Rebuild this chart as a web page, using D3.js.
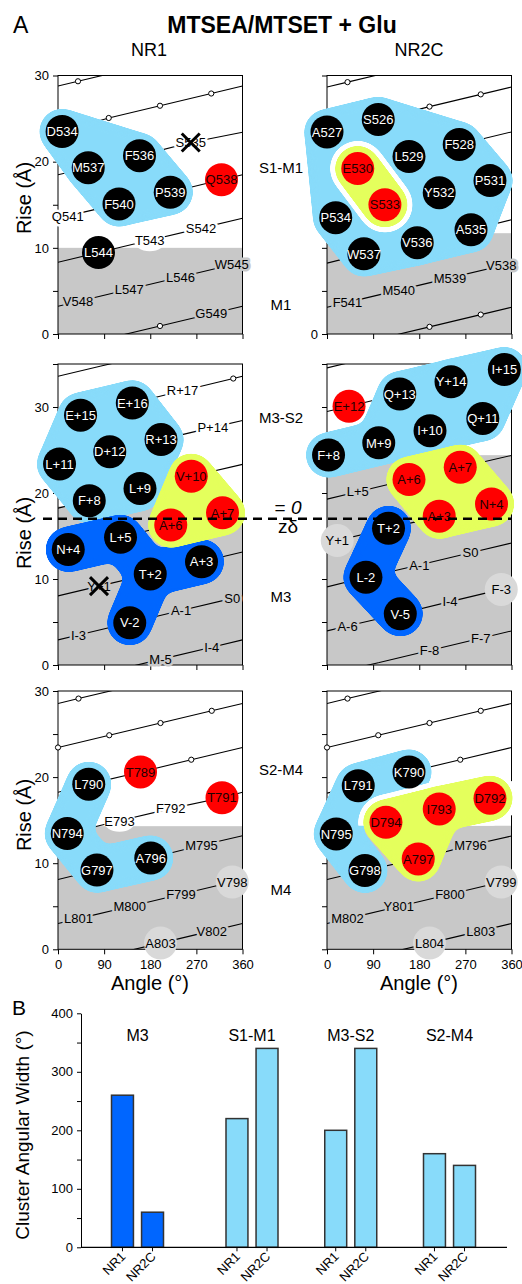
<!DOCTYPE html>
<html><head><meta charset="utf-8">
<script src="https://cdn.jsdelivr.net/npm/d3@7"></script>
<style>body{margin:0;background:#fff}svg{display:block}</style>
</head><body>
<svg id="c" width="522" height="1284" font-family="Liberation Sans, Arial, sans-serif"></svg>
<script>
// ---------------- DATA ----------------
// residues: [label, helical angle (deg), rise (Å), mark]  mark: b=black, r=red, o=open marker, t=text, x=crossed, w=white spot, g=grey spot, n=path only
const nr1S1M1 = [
 ["",239,32.17,"n"],["",139,30.75,"n"],["",39,29.33,"o"],["",299,27.91,"o"],["",199,26.49,"o"],["",99,25.07,"o"],
 ["D534",8,23.5,"b"],["S535",259,22.23,"x"],["F536",159,20.7,"b"],["M537",59,19.3,"b"],["Q538",319,17.9,"r"],
 ["P539",219,16.45,"b"],["F540",119,15.1,"b"],["Q541",19,13.71,"t"],["S542",279,12.29,"t"],["T543",179,10.87,"w"],
 ["L544",79,9.45,"b"],["W545",339,8.03,"t"],["L546",239,6.61,"t"],["L547",139,5.19,"t"],["V548",39,3.77,"t"],
 ["G549",299,2.35,"t"],["",199,0.93,"o"],["",99,-0.49,"n"]
];
const nr2cS1M1 = [
 ["",240,32.07,"n"],["",140,30.65,"n"],["",40,29.23,"o"],["",300,27.81,"o"],["",200,26.39,"o"],
 ["S526",100,24.9,"b"],["A527",0,23.45,"b"],["F528",258,22.0,"b"],["L529",160,20.6,"b"],["E530",60,19.2,"r"],
 ["P531",318,17.8,"b"],["Y532",219,16.4,"b"],["S533",113,15.0,"r"],["P534",17,13.5,"b"],["A535",281,12.1,"b"],
 ["V536",176,10.6,"b"],["W537",72,9.3,"b"],["V538",340,7.93,"t"],["M539",240,6.51,"t"],["M540",140,5.09,"t"],
 ["F541",40,3.67,"t"],["",300,2.25,"o"],["",200,0.83,"o"],["",100,-0.59,"n"]
];
const nr1M3 = [
 ["",100,-0.77,"n"],["M-5",200,0.65,"t"],["I-4",300,2.07,"t"],["I-3",40,3.49,"t"],["V-2",140,4.91,"b"],
 ["A-1",240,6.33,"t"],["S0",340,7.75,"t"],["Y+1",80,9.17,"x"],["T+2",180,10.59,"b"],["A+3",280,12.01,"b"],
 ["N+4",20,13.43,"b"],["L+5",122,14.85,"b"],["A+6",220,16.27,"r"],["A+7",321,17.69,"r"],["F+8",61,19.11,"b"],
 ["L+9",160,20.53,"b"],["V+10",260,21.95,"r"],["L+11",3,23.37,"b"],["D+12",101,24.79,"b"],["R+13",201,26.21,"b"],
 ["P+14",302,27.63,"t"],["E+15",44,29.05,"b"],["E+16",145,30.47,"b"],["R+17",243,31.89,"t"],["",342,33.31,"o"],
 ["",82,34.73,"n"],["",182,36.15,"n"]
];
const nr2cM3 = [
 ["",0,-1.15,"n"],["",100,0.27,"n"],["F-8",200,1.69,"t"],["F-7",300,3.11,"t"],["A-6",40,4.53,"t"],
 ["V-5",143,5.95,"b"],["I-4",240,7.37,"t"],["F-3",340,8.79,"g"],["L-2",76,10.21,"b"],["A-1",180,11.63,"t"],
 ["S0",280,13.05,"t"],["Y+1",20,14.47,"g"],["T+2",120,15.89,"b"],["A+3",219,17.31,"r"],["N+4",321,18.73,"r"],
 ["L+5",60,20.15,"t"],["A+6",160,21.57,"r"],["A+7",260,22.99,"r"],["F+8",3,24.41,"b"],["M+9",101,25.83,"b"],
 ["I+10",201,27.25,"b"],["Q+11",304,28.67,"b"],["E+12",43,30.09,"r"],["Q+13",142,31.51,"b"],["Y+14",242,32.93,"b"],
 ["I+15",346,34.35,"b"],["",86,35.77,"n"],["",186,37.19,"n"]
];
const nr1S2M4 = [
 ["",240,31.96,"n"],["",140,30.54,"n"],["",40,29.12,"o"],["",300,27.7,"o"],["",200,26.28,"o"],["",100,24.86,"o"],
 ["",0,23.44,"o"],["",260,22.02,"o"],["T789",161,20.6,"r"],["L790",60,19.18,"b"],["T791",320,17.6,"r"],
 ["F792",220,16.34,"t"],["E793",120,14.92,"w"],["N794",18,13.45,"b"],["M795",280,12.08,"t"],["A796",181,10.6,"b"],
 ["G797",76,9.2,"b"],["V798",340,7.82,"g"],["F799",240,6.4,"t"],["M800",140,4.98,"t"],["L801",40,3.56,"t"],
 ["V802",300,2.14,"t"],["A803",200,0.72,"g"],["",100,-0.7,"n"]
];
const nr2cS2M4 = [
 ["",240,31.96,"n"],["",140,30.54,"n"],["",40,29.12,"o"],["",300,27.7,"o"],["",200,26.28,"o"],["",100,24.86,"o"],
 ["",0,23.44,"o"],["",260,22.02,"o"],["K790",160,20.6,"b"],["L791",61,19.0,"b"],["D792",318,17.55,"r"],
 ["I793",219,16.3,"r"],["D794",115,14.75,"r"],["N795",18,13.4,"b"],["M796",280,12.08,"t"],["A797",178,10.5,"r"],
 ["G798",74,9.15,"b"],["V799",340,7.82,"g"],["F800",240,6.4,"t"],["Y801",140,4.98,"t"],["M802",40,3.56,"t"],
 ["L803",300,2.14,"t"],["L804",200,0.72,"g"],["",100,-0.7,"n"]
];
// clusters: [type, members, links]
const nr1S1M1Clusters = [
 ["cluster",["D534","M537","F536","F540","P539"],[["D534","M537"],["D534","F536"],["M537","F536"],["M537","F540"],["F536","P539"],["F540","P539"],["F536","F540"]]]
];
const nr2cS1M1Clusters = [
 ["cluster",["A527","S526","F528","L529","E530","P531","Y532","S533","P534","A535","V536","W537"],
  [["A527","S526"],["S526","L529"],["S526","F528"],["L529","F528"],["F528","P531"],["P531","A535"],["A535","V536"],["V536","W537"],
   ["W537","P534"],["P534","A527"],["A527","E530"],["E530","L529"],["E530","P534"],["E530","S533"],["S533","P534"],["S533","W537"],
   ["S533","V536"],["S533","Y532"],["L529","Y532"],["Y532","F528"],["Y532","P531"],["Y532","A535"],["Y532","V536"],["L529","S533"]]],
 ["moat",["E530","S533"],[["E530","S533"]]],
 ["reactive",["E530","S533"],[["E530","S533"]]]
];
const nr1M3Clusters = [
 ["cluster",["E+15","E+16","R+13","D+12","L+11","L+9","F+8"],
  [["L+11","E+15"],["E+15","E+16"],["E+16","R+13"],["R+13","L+9"],["L+9","F+8"],["F+8","L+11"],
   ["D+12","E+15"],["D+12","E+16"],["D+12","R+13"],["D+12","L+9"],["D+12","F+8"],["D+12","L+11"]]],
 ["gate",["N+4","L+5","T+2","A+3","V-2"],[["N+4","L+5"],["L+5","T+2"],["T+2","A+3"],["T+2","V-2"]]],
 ["reactive",["V+10","A+7","A+6"],[["V+10","A+7"],["A+7","A+6"],["A+6","V+10"]]]
];
const nr2cM3Clusters = [
 ["cluster",["F+8","M+9","I+10","Q+11","Q+13","Y+14","I+15"],
  [["F+8","M+9"],["M+9","I+10"],["I+10","Q+11"],["Q+13","Y+14"],["Y+14","I+15"],["M+9","Q+13"],["I+10","Q+13"],
   ["I+10","Y+14"],["Q+11","Y+14"],["Q+11","I+15"]]],
 ["reactive",["A+6","A+7","N+4","A+3"],[["A+6","A+7"],["A+7","N+4"],["N+4","A+3"],["A+3","A+6"],["A+6","N+4"],["A+7","A+3"]]],
 ["gate",["T+2","L-2","V-5"],[["T+2","L-2"],["L-2","V-5"]]]
];
const nr1S2M4Clusters = [
 ["cluster",["L790","N794","G797","A796"],[["L790","N794"],["N794","G797"],["G797","A796"]]]
];
const nr2cS2M4Clusters = [
 ["cluster",["K790","L791","N795","G798"],[["K790","L791"],["L791","N795"],["N795","G798"]]],
 ["moat",["D794","I793","D792","A797"],[["D794","I793"],["I793","D792"],["D794","A797"],["I793","A797"]]],
 ["reactive",["D794","I793","D792","A797"],[["D794","I793"],["I793","D792"],["D794","A797"],["I793","A797"]]]
];
const angleTicks = [0,90,180,270,360];
// panel B
const groups = ["M3","S1-M1","M3-S2","S2-M4"];
const subunits = ["NR1","NR2C"];
const widthNR1 = [260,220,200,160];
const widthNR2C = [60,340,340,140];
const widthTicks = [0,50,100,150,200,250,300,350,400];

// ---------------- STYLE ----------------
const FONT="Liberation Sans, Arial, sans-serif";
const GRAY="#c8c8c8", SPOT="#d9d9d9", RED="#ff0000";
const clusterColor={cluster:"#88dbfa",gate:"#0066ff",reactive:"#e4ff5c",moat:"#ffffff"};
const clusterPad={cluster:6,gate:6,reactive:6,moat:11};
const R=16.5;

const svg=d3.select("#c");
const defs=svg.append("defs");
const goo=defs.append("filter").attr("id","goo").attr("filterUnits","userSpaceOnUse")
  .attr("x",-50).attr("y",-50).attr("width",622).attr("height",1384).attr("color-interpolation-filters","sRGB");
goo.append("feGaussianBlur").attr("in","SourceGraphic").attr("stdDeviation",4.5).attr("result","b");
goo.append("feColorMatrix").attr("in","b").attr("mode","matrix").attr("values","1 0 0 0 0  0 1 0 0 0  0 0 1 0 0  0 0 0 20 -9");

function helixSegments(res){
  const segs=[];
  for(let i=0;i<res.length-1;i++){
    const a1=res[i][1],z1=res[i][2],a2=res[i+1][1],z2=res[i+1][2];
    const d=((a2-a1)%360+540)%360-180;
    const end=a1+d;
    if(end<0){const t=-a1/d,zc=z1+(z2-z1)*t;segs.push([a1,z1,0,zc],[360,zc,end+360,z2]);}
    else if(end>360){const t=(360-a1)/d,zc=z1+(z2-z1)*t;segs.push([a1,z1,360,zc],[0,zc,end-360,z2]);}
    else segs.push([a1,z1,end,z2]);
  }
  return segs;
}

function styleAxis(a){
  a.attr("font-family",FONT).attr("font-size",13);
  a.selectAll("line").attr("stroke","#000");
  a.selectAll("text").attr("fill","#000");
}

function drawPanel(cfg){
  const x=d3.scaleLinear().domain([0,360]).range(cfg.xr);
  const y=d3.scaleLinear().domain(cfg.yd).range(cfg.yr);
  const P=d=>[x(d[1]),y(d[2])];
  const pos={}; cfg.res.forEach(r=>{if(r[0]) pos[r[0]]=P(r);});
  const g=svg.append("g");
  const cid="clip-"+cfg.id;
  const wdt=cfg.xr[1]-cfg.xr[0], hgt=cfg.yr[0]-cfg.yr[1];
  defs.append("clipPath").attr("id",cid).append("rect").attr("x",cfg.xr[0]).attr("y",cfg.yr[1]).attr("width",wdt).attr("height",hgt);
  const inner=g.append("g").attr("clip-path",`url(#${cid})`);
  inner.append("rect").attr("x",cfg.xr[0]).attr("y",y(cfg.grayTop)).attr("width",wdt).attr("height",cfg.yr[0]-y(cfg.grayTop)).attr("fill",GRAY);
  inner.selectAll("line").data(helixSegments(cfg.res)).join("line")
    .attr("x1",d=>x(d[0])).attr("y1",d=>y(d[1])).attr("x2",d=>x(d[2])).attr("y2",d=>y(d[3]))
    .attr("stroke","#000").attr("stroke-width",1.1);
  g.append("rect").attr("x",cfg.xr[0]).attr("y",cfg.yr[1]).attr("width",wdt).attr("height",hgt)
    .attr("fill","none").attr("stroke","#000").attr("stroke-width",1);
  const xa=g.append("g").attr("transform",`translate(0,${cfg.yr[0]})`)
    .call(d3.axisBottom(x).tickValues(angleTicks).tickSize(5).tickSizeOuter(0).tickPadding(5).tickFormat(cfg.xLabels?(d=>d):(()=>"")));
  xa.select(".domain").remove(); styleAxis(xa);
  const ya=g.append("g").attr("transform",`translate(${cfg.xr[0]},0)`)
    .call(d3.axisLeft(y).tickValues(d3.range(0,cfg.yd[1]+0.1,5)).tickSize(5).tickSizeOuter(0).tickPadding(4).tickFormat(cfg.yFmt));
  ya.select(".domain").remove(); styleAxis(ya);
  // spots
  g.selectAll("ellipse.w").data(cfg.res.filter(r=>r[3]==="w")).join("ellipse")
    .attr("cx",d=>P(d)[0]).attr("cy",d=>P(d)[1]).attr("rx",16).attr("ry",11).attr("fill","#fff");
  g.selectAll("circle.g").data(cfg.res.filter(r=>r[3]==="g")).join("circle")
    .attr("cx",d=>P(d)[0]).attr("cy",d=>P(d)[1]).attr("r",R).attr("fill",SPOT);
  // open markers
  g.selectAll("circle.o").data(cfg.res.filter(r=>r[3]==="o")).join("circle")
    .attr("cx",d=>P(d)[0]).attr("cy",d=>P(d)[1]).attr("r",2.6).attr("fill","#fff").attr("stroke","#000").attr("stroke-width",1);
  // line labels
  g.selectAll("text.t").data(cfg.res.filter(r=>"txwg".includes(r[3])&&r[0])).join("text")
    .attr("x",d=>P(d)[0]).attr("y",d=>P(d)[1]).attr("dy","0.36em").attr("text-anchor","middle")
    .attr("font-size",13).attr("fill","#000")
    .attr("stroke",d=>(d[3]==="t"||d[3]==="x")?(d[2]<cfg.grayTop?GRAY:"#fff"):"none")
    .attr("stroke-width",5).attr("stroke-linejoin","round").attr("paint-order","stroke")
    .text(d=>d[0]);
  // clusters
  cfg.clusters.forEach(cl=>{
    const [type,members,links]=cl;
    const rad=R+clusterPad[type], col=clusterColor[type];
    let host=g;
    if(type==="moat"){
      const mid="moat-"+cfg.id;
      defs.append("clipPath").attr("id",mid).append("rect").attr("x",cfg.xr[0]-40).attr("y",0).attr("width",wdt+80).attr("height",y(cfg.grayTop));
      host=g.append("g").attr("clip-path",`url(#${mid})`);
    }
    const bg=host.append("g").attr("filter","url(#goo)");
    bg.selectAll("line").data(links).join("line")
      .attr("x1",d=>pos[d[0]][0]).attr("y1",d=>pos[d[0]][1]).attr("x2",d=>pos[d[1]][0]).attr("y2",d=>pos[d[1]][1])
      .attr("stroke",col).attr("stroke-width",2*rad).attr("stroke-linecap","round");
    bg.selectAll("circle").data(members).join("circle")
      .attr("cx",d=>pos[d][0]).attr("cy",d=>pos[d][1]).attr("r",rad).attr("fill",col);
  });
  // residue circles
  const rc=cfg.res.filter(r=>r[3]==="b"||r[3]==="r");
  g.selectAll("circle.res").data(rc).join("circle")
    .attr("cx",d=>P(d)[0]).attr("cy",d=>P(d)[1]).attr("r",R).attr("fill",d=>d[3]==="b"?"#000":RED);
  g.selectAll("text.res").data(rc).join("text")
    .attr("x",d=>P(d)[0]).attr("y",d=>P(d)[1]).attr("dy","0.36em").attr("text-anchor","middle")
    .attr("font-size",13).attr("fill",d=>d[3]==="b"?"#fff":"#220000").text(d=>d[0]);
  // crosses
  cfg.res.filter(r=>r[3]==="x").forEach(d=>{
    const [cx,cy]=P(d), s=9;
    g.append("path").attr("d",`M${cx-s},${cy-s}L${cx+s},${cy+s}M${cx+s},${cy-s}L${cx-s},${cy+s}`)
      .attr("stroke","#000").attr("stroke-width",3).attr("fill","none");
  });
}

const XL=[58,242.5], XR=[327,511.5];
const leftFmt=d=>d%10===0?d:"";
drawPanel({id:"tl",res:nr1S1M1,clusters:nr1S1M1Clusters,xr:XL,yd:[0,30],yr:[334,75.5],grayTop:10.0,xLabels:false,yFmt:leftFmt});
drawPanel({id:"tr",res:nr2cS1M1,clusters:nr2cS1M1Clusters,xr:XR,yd:[0,30],yr:[334,75.5],grayTop:11.7,xLabels:false,yFmt:d=>d===0?"0":""});
drawPanel({id:"ml",res:nr1M3,clusters:nr1M3Clusters,xr:XL,yd:[0,35],yr:[665,364],grayTop:18.45,xLabels:false,yFmt:leftFmt});
drawPanel({id:"mr",res:nr2cM3,clusters:nr2cM3Clusters,xr:XR,yd:[0,35],yr:[665,364],grayTop:24.4,xLabels:false,yFmt:()=>""});
drawPanel({id:"bl",res:nr1S2M4,clusters:nr1S2M4Clusters,xr:XL,yd:[0,30],yr:[949.3,691],grayTop:14.3,xLabels:true,yFmt:leftFmt});
drawPanel({id:"br",res:nr2cS2M4,clusters:nr2cS2M4Clusters,xr:XR,yd:[0,30],yr:[949.3,691],grayTop:14.35,xLabels:true,yFmt:()=>""});

// z-delta reference line
const yMid=d3.scaleLinear().domain([0,35]).range([665,364]);
svg.append("line").attr("x1",43).attr("x2",512).attr("y1",yMid(17)).attr("y2",yMid(17))
  .attr("stroke","#000").attr("stroke-width",2.5).attr("stroke-dasharray","9,6");
const zt=svg.append("text").attr("x",288).attr("y",yMid(17)-5).attr("text-anchor","middle").attr("font-size",19);
zt.append("tspan").text("= ");
zt.append("tspan").attr("font-style","italic").text("0");
svg.append("text").attr("x",288).attr("y",yMid(17)+14).attr("text-anchor","middle").attr("font-size",19).text("zδ");

// headings and labels
const T=(x,y,s,o={})=>{const t=svg.append("text").attr("x",x).attr("y",y).text(s).attr("font-size",o.fs||15)
  .attr("text-anchor",o.anchor||"middle").attr("fill","#000");
  if(o.bold) t.attr("font-weight","bold"); if(o.rot) t.attr("transform",`rotate(${o.rot},${x},${y})`); if(o.dy) t.attr("dy",o.dy); return t;};
T(13,33,"A",{fs:23,anchor:"start"});
T(282,33,"MTSEA/MTSET + Glu",{fs:23,bold:true});
T(149,56,"NR1",{fs:18});
T(419,56,"NR2C",{fs:18});
[["S1-M1",168],["M1",305],["M3-S2",418],["M3",597],["S2-M4",770],["M4",890]].forEach(d=>T(281,d[1],d[0],{fs:15,dy:"0.36em"}));
[198,533,815].forEach(yy=>T(24,yy,"Rise (Å)",{fs:20,rot:-90,dy:"0.36em"}));
T(150,983,"Angle (°)",{fs:20,dy:"0.36em"});
T(419,983,"Angle (°)",{fs:20,dy:"0.36em"});

// ---------------- PANEL B ----------------
T(12,1015,"B",{fs:21,anchor:"start"});
const yB=d3.scaleLinear().domain([0,400]).range([1247.3,1013.3]);
const xLoops=d3.scalePoint().domain(groups.slice(1)).range([252,449.5]);
const gx=g=>g==="M3"?xLoops("S1-M1")-114.5:xLoops(g);
const xSub=d3.scaleBand().domain(subunits).range([-26,26]).paddingInner(0.27);
const bars=[];
groups.forEach((g,i)=>{bars.push({g,s:"NR1",v:widthNR1[i]});bars.push({g,s:"NR2C",v:widthNR2C[i]});});
const bcol=g=>g==="M3"?clusterColor.gate:clusterColor.cluster;
svg.append("g").selectAll("rect").data(bars).join("rect")
  .attr("x",d=>gx(d.g)+xSub(d.s)).attr("width",xSub.bandwidth())
  .attr("y",d=>yB(d.v)).attr("height",d=>yB(0)-yB(d.v))
  .attr("fill",d=>bcol(d.g)).attr("stroke","#333").attr("stroke-width",1.5);
const yax=svg.append("g").attr("transform","translate(81,0)")
  .call(d3.axisLeft(yB).tickValues(widthTicks).tickSize(4).tickSizeOuter(0).tickPadding(4).tickFormat(d=>d%100===0?d:""));
styleAxis(yax); yax.select(".domain").attr("stroke","#000");
svg.append("line").attr("x1",81).attr("x2",507).attr("y1",yB(0)).attr("y2",yB(0)).attr("stroke","#000").attr("stroke-width",1.2);
svg.append("g").selectAll("line").data(bars).join("line")
  .attr("x1",d=>gx(d.g)+xSub(d.s)+xSub.bandwidth()/2).attr("x2",d=>gx(d.g)+xSub(d.s)+xSub.bandwidth()/2)
  .attr("y1",yB(0)).attr("y2",yB(0)+4).attr("stroke","#000");
svg.append("g").selectAll("text").data(bars).join("text")
  .attr("transform",d=>{const cx=gx(d.g)+xSub(d.s)+xSub.bandwidth()/2+4;return `translate(${cx},${yB(0)+10}) rotate(-45)`;})
  .attr("text-anchor","end").attr("font-size",13).attr("fill","#000").text(d=>d.s);
groups.forEach(g=>T(gx(g),1041,g,{fs:16}));
T(22,1135,"Cluster Angular Width (°)",{fs:19,rot:-90,dy:"0.36em"});
</script>
</body></html>
